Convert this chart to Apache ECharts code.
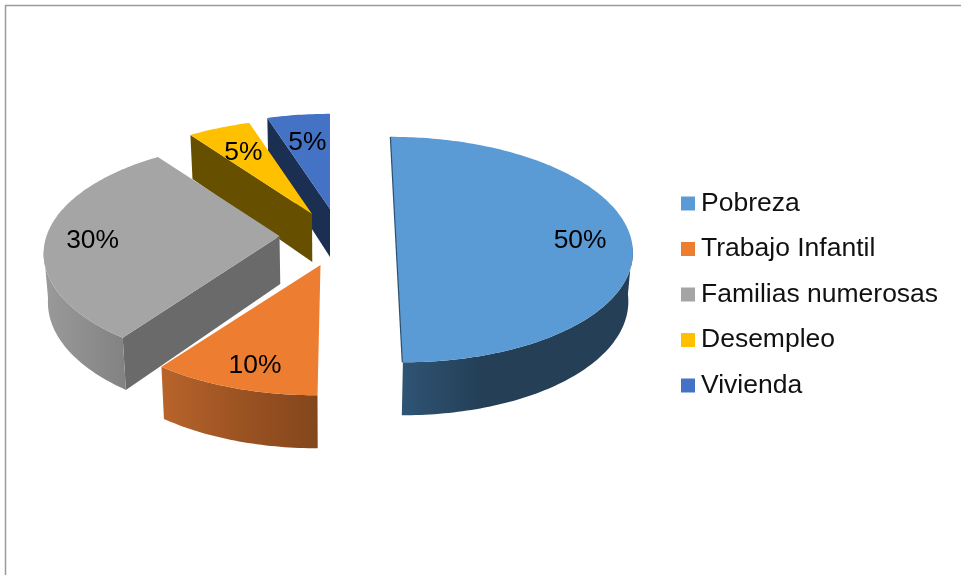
<!DOCTYPE html>
<html>
<head>
<meta charset="utf-8">
<style>html,body{margin:0;padding:0;background:#fff}#c{width:961px;height:575px}</style>
<script src="https://cdn.jsdelivr.net/npm/echarts@6/dist/echarts.min.js"></script>
</head>
<body>
<div id="c"></div>
<script>
const categories = ['Pobreza', 'Trabajo Infantil', 'Familias numerosas', 'Desempleo', 'Vivienda'];
const values = [50, 10, 30, 5, 5];

const topColors = ['#5B9BD5', '#ED7D31', '#A5A5A5', '#FFC000', '#4472C4'];
const wallStops = [
  ['#2F5475', '#243F56', '#243F56'],
  ['#B8642B', '#9C5322', '#83461C'],
  ['#9A9A9A', '#8E8E8E', '#828282'],
  ['#665000', '#665000', '#665000'],
  ['#1A2F52', '#1A2F52', '#1A2F52']
];
const faceColors = ['#2C5170', '#83461C', '#6A6A6A', '#665000', '#1A2F52'];
// per-slice placement of the exploded wedge
const slicePlace = [
  { cx: 396, cy: 232, shear: 0.053, z: 4, face: 'edge', labelR: 0.79, dx: 0, dy: 9 },
  { cx: 320.5, cy: 265, shear: -0.023, z: 5, face: null, labelR: 0.8, dx: 2, dy: 6 },
  { cx: 279.5, cy: 236, shear: 0, z: 3, face: 'start', labelR: 0.8, dx: -0.5, dy: 5 },
  { cx: 312, cy: 214, shear: 0, z: 2, face: 'start', labelR: 0.68, dx: -3, dy: 0 },
  { cx: 330, cy: 209, shear: 0, z: 1, face: 'start', labelR: 0.74, dx: 1.5, dy: 6 }
];
const RX = 233, RY = 110, PERSP = 0.156, X0 = 330, SHRINK = 0.985;
const WALL_MIN = 97, WALL_MAX = 263;

const total = values.reduce((s, v) => s + v, 0);
let run = 0;
const spans = values.map(v => { const s = run; run += v; return [s / total * 360, run / total * 360]; });

function topPt(i, deg, r) {
  const p = slicePlace[i], t = deg * Math.PI / 180;
  const X = r * Math.sin(t), Y = r * Math.cos(t), w = 1 + PERSP * Y;
  const py = -RY * Y / w;
  return [p.cx + RX * X / w + p.shear * py, p.cy + py, Y];
}
function bottomPt(i, deg, r) {
  const q = topPt(i, deg, r);
  return [X0 + (q[0] - X0) * SHRINK, q[1] + 48 - 5 * q[2]];
}
function arc(fn, i, a, b) {
  const out = [], n = Math.max(2, Math.ceil(Math.abs(b - a)));
  for (let k = 0; k <= n; k++) out.push(fn(i, a + (b - a) * k / n, 1).slice(0, 2));
  return out;
}
function renderSlice(i) {
  return function () {
    const p = slicePlace[i], [a, b] = spans[i], kids = [];
    const apexT = topPt(i, 0, 0).slice(0, 2), apexB = bottomPt(i, 0, 0);
    const poly = (pts, fill) => ({ type: 'polygon', shape: { points: pts }, style: { fill: fill } });
    if (p.face === 'start') {
      kids.push(poly([apexT, topPt(i, a, 1).slice(0, 2), bottomPt(i, a, 1), apexB], faceColors[i]));
    } else if (p.face === 'edge') {
      kids.push({
        type: 'polyline',
        shape: { points: [topPt(i, a, 1).slice(0, 2), topPt(i, b, 1).slice(0, 2)] },
        style: { stroke: faceColors[i], lineWidth: 2.4, fill: null }
      });
    }
    const lo = Math.max(a, WALL_MIN), hi = Math.min(b, WALL_MAX);
    if (hi > lo) {
      const upper = arc(topPt, i, lo, hi), lower = arc(bottomPt, i, lo, hi).reverse();
      const c = wallStops[i];
      kids.push(poly(upper.concat(lower), {
        type: 'linear', x: 0, y: 0, x2: 1, y2: 0,
        colorStops: [{ offset: 0, color: c[0] }, { offset: i === 0 ? 0.35 : 0.5, color: c[1] }, { offset: 1, color: c[2] }]
      }));
    }
    kids.push(poly([apexT].concat(arc(topPt, i, a, b)), topColors[i]));
    const mid = topPt(i, (a + b) / 2, p.labelR);
    kids.push({
      type: 'text', z2: 10,
      style: { text: values[i] + '%', x: mid[0] + p.dx, y: mid[1] + p.dy, fill: '#000', align: 'center', verticalAlign: 'middle', font: '26.4px "Liberation Sans"' }
    });
    return { type: 'group', children: kids };
  };
}

const chart = echarts.init(document.getElementById('c'), null, { renderer: 'canvas' });
chart.setOption({
  animation: false,
  backgroundColor: '#fff',
  legend: {
    orient: 'vertical', left: 681, top: 190, padding: 0, selectedMode: false,
    itemWidth: 14, itemHeight: 14, itemGap: 18.5, itemStyle: { borderWidth: 0 }, icon: 'rect',
    data: categories,
    textStyle: { fontFamily: 'Liberation Sans', fontSize: 26.5, color: '#111', lineHeight: 26, padding: [0, 0, 0, 1] }
  },
  graphic: [
    { type: 'polyline', silent: true, shape: { points: [[5.5, 575], [5.5, 5.5], [961, 5.5]] }, style: { stroke: '#9A9A9A', lineWidth: 1.5, fill: null } }
  ],
  series: categories.map((name, i) => ({
    type: 'custom', name, coordinateSystem: 'none', z: slicePlace[i].z + 2,
    itemStyle: { color: topColors[i] }, silent: true,
    data: [values[i]],
    renderItem: renderSlice(i)
  }))
});
</script>
</body>
</html>
